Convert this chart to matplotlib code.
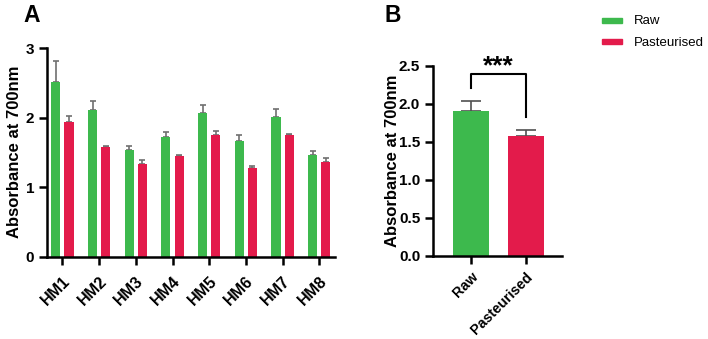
import matplotlib
matplotlib.use("Agg")
import matplotlib.pyplot as plt
import numpy as np
from matplotlib.patches import Rectangle

plt.rcParams['font.family'] = ['Liberation Sans', 'DejaVu Sans']

categories = ["HM1", "HM2", "HM3", "HM4", "HM5", "HM6", "HM7", "HM8"]
raw_vals = [2.52, 2.12, 1.54, 1.73, 2.07, 1.67, 2.01, 1.47]
raw_err = [0.30, 0.12, 0.05, 0.07, 0.11, 0.09, 0.12, 0.06]
past_vals = [1.94, 1.58, 1.34, 1.45, 1.75, 1.28, 1.76, 1.37]
past_err = [0.08, 0.02, 0.06, 0.01, 0.06, 0.03, 0.01, 0.05]

groups_b = ["Raw", "Pasteurised"]
mean_b = [1.90, 1.57]
err_b = [0.13, 0.08]
yticks_a = [0, 1, 2, 3]
yticks_b = [0.0, 0.5, 1.0, 1.5, 2.0, 2.5]
series_names = ["Raw", "Pasteurised"]

GREEN = "#3DB94D"
RED = "#E31B4B"
W, H = 708, 339
fig = plt.figure(figsize=(W/100, H/100), dpi=100)

def ax_rect(l, r, b, t):
    return [l/W, 1-b/H, (r-l)/W, (b-t)/H]

def style(ax, xsize, xpad):
    for s in ['top', 'right']:
        ax.spines[s].set_visible(False)
    for s in ['left', 'bottom']:
        ax.spines[s].set_linewidth(1.8)
    ax.tick_params(axis='both', width=1.8, length=6, labelsize=11, direction='out')
    ax.tick_params(axis='x', pad=xpad, labelsize=xsize)
    ax.tick_params(axis='y', pad=3)
    for lab in ax.get_xticklabels() + ax.get_yticklabels():
        lab.set_fontweight('bold')

# Panel A
axA = fig.add_axes(ax_rect(46.7, 335, 257, 48.3))
x = np.arange(len(categories))
bw = 0.25
off = 0.18
axA.bar(x - off, raw_vals, bw, color=GREEN, zorder=2)
axA.bar(x + off, past_vals, bw, color=RED, zorder=2)
axA.errorbar(x - off, raw_vals, yerr=[np.zeros(len(x)), raw_err], fmt='none',
             ecolor='#707070', elinewidth=1.2, capsize=2.5, capthick=1.2, zorder=1)
axA.errorbar(x + off, past_vals, yerr=[np.zeros(len(x)), past_err], fmt='none',
             ecolor='#707070', elinewidth=1.2, capsize=2.5, capthick=1.2, zorder=1)
axA.set_xlim(-0.43, 7.43)
axA.set_ylim(0, 3)
axA.set_yticks(yticks_a)
axA.set_xticks(x)
axA.set_xticklabels(categories, rotation=45, ha='right', rotation_mode='anchor')
axA.set_ylabel("Absorbance at 700nm", fontsize=12, fontweight='bold')
axA.yaxis.set_label_coords(-0.0857, 0.505)
style(axA, 11.5, 6)
fig.text(23/W, 1-15/H, "A", fontsize=16.5, fontweight='bold', va='center', ha='left')

# Panel B
axB = fig.add_axes(ax_rect(432.7, 562.3, 255.7, 65.7))
xb = np.arange(len(groups_b))
axB.bar(xb, mean_b, 0.66, color=[GREEN, RED], zorder=2)
axB.errorbar(xb, mean_b, yerr=[np.zeros(2), err_b], fmt='none', ecolor='#505050',
             elinewidth=1.2, capsize=7, capthick=1.2, zorder=1)
axB.set_xlim(-0.70, 1.67)
axB.set_ylim(0, 2.5)
axB.set_yticks(yticks_b)
axB.set_yticklabels([f"{v:.1f}" for v in yticks_b])
axB.set_xticks(xb)
axB.set_xticklabels(groups_b, rotation=45, ha='right', rotation_mode='anchor')
axB.set_ylabel("Absorbance at 700nm", fontsize=12, fontweight='bold')
axB.yaxis.set_label_coords(-0.252, 0.5)
style(axB, 10.3, 4)
axB.plot([0, 0, 1, 1], [2.20, 2.39, 2.39, 1.83], color='black', lw=1.5, clip_on=False)
axB.text(0.5, 2.40, "***", ha='center', va='baseline', fontsize=19, fontweight='bold')
fig.text(384/W, 1-15/H, "B", fontsize=16.5, fontweight='bold', va='center', ha='left')

# Legend (figure-level)
colors = [GREEN, RED]
ys = [20, 41]
for name, c, yy in zip(series_names, colors, ys):
    fig.patches.append(Rectangle((602/W, 1-(yy+2.5)/H), 20/W, 5/H, color=c,
                                 transform=fig.transFigure, figure=fig))
    fig.text(634/W, 1-(yy+1.5)/H, name, fontsize=9.5, va='center', ha='left')

fig.savefig("out.png", dpi=100)
